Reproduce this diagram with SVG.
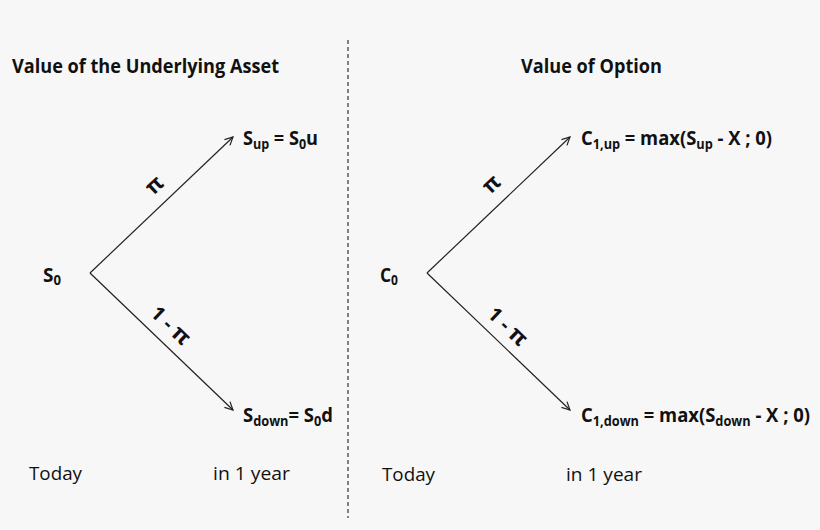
<svg xmlns="http://www.w3.org/2000/svg" width="820" height="530" viewBox="0 0 820 530">
<defs>
<style>
text{font-family:"Open Sans",Lato,"Liberation Sans",sans-serif;fill:#111;font-size:19px}
.b{font-weight:bold;font-size:19.5px}
.t{font-weight:bold;font-size:20px}
.s{font-size:13.5px;font-weight:bold}
.pi{font-weight:bold;font-size:22px}
.edge{stroke:#222;stroke-width:1.2;fill:none}
.div{stroke:#333;stroke-width:1.2;stroke-dasharray:4 3;fill:none}
</style>
<marker id="arr" markerUnits="userSpaceOnUse" markerWidth="12" markerHeight="12" refX="9" refY="5" orient="auto">
<path d="M1,1 L9,5 L1,9" fill="none" stroke="#222" stroke-width="1.2"/>
</marker>
</defs>
<rect width="820" height="530" fill="#f7f7f7"/>
<g id="titles">
<text class="t" x="12" y="73" textLength="267" lengthAdjust="spacingAndGlyphs">Value of the Underlying Asset</text>
<text class="t" x="521" y="73" textLength="141" lengthAdjust="spacingAndGlyphs">Value of Option</text>
</g>
<line class="div" x1="348" y1="40" x2="348" y2="518"/>
<g id="connectors">
<line class="edge" x1="90" y1="273" x2="233" y2="137" marker-end="url(#arr)"/>
<line class="edge" x1="90" y1="273" x2="233" y2="410" marker-end="url(#arr)"/>
<line class="edge" x1="427" y1="273" x2="570" y2="137" marker-end="url(#arr)"/>
<line class="edge" x1="427" y1="273" x2="570" y2="410" marker-end="url(#arr)"/>
<text class="pi" transform="translate(155,186) rotate(-43)" text-anchor="middle" y="6">π</text>
<text class="b" transform="translate(170,326) rotate(44)" text-anchor="middle" y="6" textLength="46" lengthAdjust="spacingAndGlyphs">1 - <tspan class="pi">π</tspan></text>
<text class="pi" transform="translate(492,185) rotate(-43)" text-anchor="middle" y="6">π</text>
<text class="b" transform="translate(507,327) rotate(44)" text-anchor="middle" y="6" textLength="46" lengthAdjust="spacingAndGlyphs">1 - <tspan class="pi">π</tspan></text>
</g>
<g id="node-s0">
<text class="b" x="43" y="282" textLength="18" lengthAdjust="spacingAndGlyphs">S<tspan class="s" dy="3">0</tspan></text>
</g>
<g id="node-sup">
<text class="b" x="243" y="145" textLength="75" lengthAdjust="spacingAndGlyphs">S<tspan class="s" dy="4">up</tspan><tspan dy="-4"> = S</tspan><tspan class="s" dy="4">0</tspan><tspan dy="-4">u</tspan></text>
</g>
<g id="node-sdown">
<text class="b" x="243" y="422" textLength="90" lengthAdjust="spacingAndGlyphs">S<tspan class="s" dy="4">down</tspan><tspan dy="-4">= S</tspan><tspan class="s" dy="4">0</tspan><tspan dy="-4">d</tspan></text>
</g>
<g id="node-c0">
<text class="b" x="380" y="282" textLength="18" lengthAdjust="spacingAndGlyphs">C<tspan class="s" dy="3">0</tspan></text>
</g>
<g id="node-cup">
<text class="b" x="581" y="145" textLength="191" lengthAdjust="spacingAndGlyphs">C<tspan class="s" dy="4">1,up</tspan><tspan dy="-4"> = max(S</tspan><tspan class="s" dy="4">up</tspan><tspan dy="-4"> - X ; 0)</tspan></text>
</g>
<g id="node-cdown">
<text class="b" x="581" y="422" textLength="229" lengthAdjust="spacingAndGlyphs">C<tspan class="s" dy="4">1,down</tspan><tspan dy="-4"> = max(S</tspan><tspan class="s" dy="4">down</tspan><tspan dy="-4"> - X ; 0)</tspan></text>
</g>
<g id="time-labels">
<text x="29" y="480" textLength="53" lengthAdjust="spacingAndGlyphs">Today</text>
<text x="213" y="480" textLength="77" lengthAdjust="spacingAndGlyphs">in 1 year</text>
<text x="382" y="481" textLength="53" lengthAdjust="spacingAndGlyphs">Today</text>
<text x="566" y="481" textLength="76" lengthAdjust="spacingAndGlyphs">in 1 year</text>
</g>
</svg>
